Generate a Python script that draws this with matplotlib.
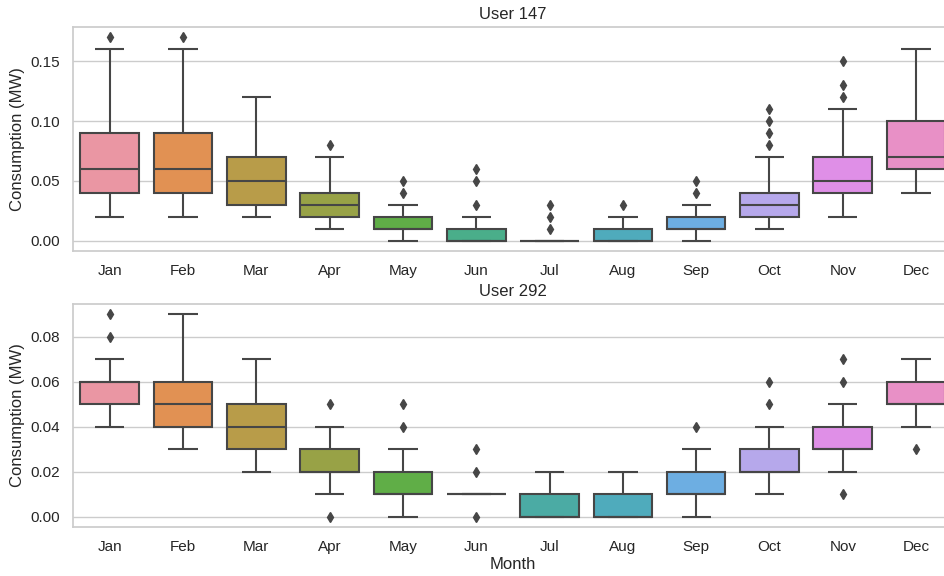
import colorsys
import matplotlib
matplotlib.use("Agg")
import matplotlib as mpl
import matplotlib.pyplot as plt
import seaborn as sns

sns.set_theme(style="whitegrid")
plt.rcParams['font.family'] = ['Liberation Sans', 'DejaVu Sans']

months = ["Jan", "Feb", "Mar", "Apr", "May", "Jun",
          "Jul", "Aug", "Sep", "Oct", "Nov", "Dec"]

# user 147 monthly box statistics (MW)
u147_q1 = [0.04, 0.04, 0.03, 0.02, 0.01, 0.00, 0.00, 0.00, 0.01, 0.02, 0.04, 0.06]
u147_med = [0.06, 0.06, 0.05, 0.03, 0.01, 0.00, 0.00, 0.00, 0.01, 0.03, 0.05, 0.07]
u147_q3 = [0.09, 0.09, 0.07, 0.04, 0.02, 0.01, 0.00, 0.01, 0.02, 0.04, 0.07, 0.10]
u147_lo = [0.02, 0.02, 0.02, 0.01, 0.00, 0.00, 0.00, 0.00, 0.00, 0.01, 0.02, 0.04]
u147_hi = [0.16, 0.16, 0.12, 0.07, 0.03, 0.02, 0.00, 0.02, 0.03, 0.07, 0.11, 0.16]
u147_out = [[0.17], [0.17], [], [0.08], [0.04, 0.05], [0.03, 0.05, 0.06],
            [0.01, 0.02, 0.03], [0.03], [0.04, 0.05], [0.08, 0.09, 0.10, 0.11],
            [0.12, 0.13, 0.15], []]

# user 292 monthly box statistics (MW)
u292_q1 = [0.05, 0.04, 0.03, 0.02, 0.01, 0.01, 0.00, 0.00, 0.01, 0.02, 0.03, 0.05]
u292_med = [0.06, 0.05, 0.04, 0.02, 0.01, 0.01, 0.00, 0.00, 0.01, 0.02, 0.03, 0.05]
u292_q3 = [0.06, 0.06, 0.05, 0.03, 0.02, 0.01, 0.01, 0.01, 0.02, 0.03, 0.04, 0.06]
u292_lo = [0.04, 0.03, 0.02, 0.01, 0.00, 0.01, 0.00, 0.00, 0.00, 0.01, 0.02, 0.04]
u292_hi = [0.07, 0.09, 0.07, 0.04, 0.03, 0.01, 0.02, 0.02, 0.03, 0.04, 0.05, 0.07]
u292_out = [[0.08, 0.09], [], [], [0.00, 0.05], [0.04, 0.05], [0.00, 0.02, 0.03],
            [], [], [0.04], [0.05, 0.06], [0.01, 0.06, 0.07], [0.03]]

# husl palette (l=.7), desaturated like seaborn's boxplot
colors = [sns.desaturate(c, 0.75) for c in sns.husl_palette(12, l=.7)]
lum = min(colorsys.rgb_to_hls(*c)[1] for c in colors) * .6
gray = mpl.colors.rgb2hex((lum, lum, lum))
lw = 1.5


def draw(ax, q1, med, q3, lo, hi, out, title):
    stats = []
    for i in range(len(months)):
        stats.append(dict(q1=q1[i], med=med[i], q3=q3[i],
                          whislo=lo[i], whishi=hi[i], fliers=out[i]))
    art = ax.bxp(stats, positions=range(len(months)), widths=0.8,
                 patch_artist=True, manage_ticks=False,
                 boxprops=dict(edgecolor=gray, linewidth=lw),
                 whiskerprops=dict(color=gray, linewidth=lw, solid_capstyle="butt"),
                 capprops=dict(color=gray, linewidth=lw, solid_capstyle="butt"),
                 medianprops=dict(color=gray, linewidth=lw, solid_capstyle="butt"),
                 flierprops=dict(marker="d", markerfacecolor=gray,
                                 markeredgecolor=gray, markersize=5))
    for box, c in zip(art["boxes"], colors):
        box.set_facecolor(c)
        box.set_zorder(2)
    ax.set_xticks(range(len(months)))
    ax.set_xticklabels(months)
    ax.set_xlim(-0.5, len(months) - 0.5)
    ax.xaxis.grid(False)
    ax.tick_params(labelsize=11)
    ax.set_ylabel("Consumption (MW)", fontsize=12)
    ax.set_title(title, fontsize=12)


fig = plt.figure(figsize=(9.44, 5.76), dpi=100)
ax1 = fig.add_axes([0.0773, 0.5642, 0.932, 0.3889])
ax2 = fig.add_axes([0.0773, 0.0851, 0.932, 0.3872])

draw(ax1, u147_q1, u147_med, u147_q3, u147_lo, u147_hi, u147_out, "User 147")
draw(ax2, u292_q1, u292_med, u292_q3, u292_lo, u292_hi, u292_out, "User 292")
ax2.set_xlabel("Month", fontsize=12, labelpad=2)

ax1.set_yticks([0.0, 0.05, 0.10, 0.15])
ax2.set_yticks([0.0, 0.02, 0.04, 0.06, 0.08])
ax1.yaxis.set_major_formatter(mpl.ticker.StrMethodFormatter('{x:.2f}'))
ax2.yaxis.set_major_formatter(mpl.ticker.StrMethodFormatter('{x:.2f}'))
ax1.set_ylim(-0.0085, 0.1785)
ax2.set_ylim(-0.0045, 0.0945)

fig.savefig("out.png", dpi=100)
